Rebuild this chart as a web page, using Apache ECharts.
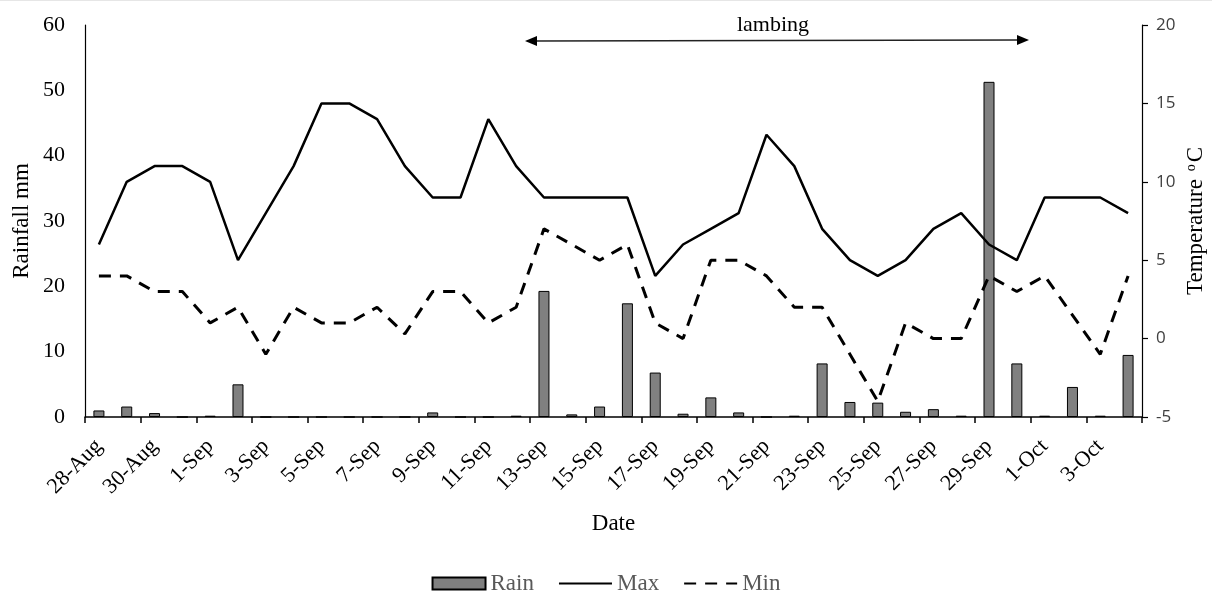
<!DOCTYPE html>
<html>
<head>
<meta charset="utf-8">
<script src="https://cdn.jsdelivr.net/npm/echarts@6/dist/echarts.min.js"></script>
<style>
html,body{margin:0;padding:0;background:#fff;}
#chart{width:1212px;height:594px;}
</style>
</head>
<body>
<div id="chart"></div>
<script>
const dates = ['28-Aug','29-Aug','30-Aug','31-Aug',
  '1-Sep','2-Sep','3-Sep','4-Sep','5-Sep','6-Sep','7-Sep','8-Sep','9-Sep','10-Sep',
  '11-Sep','12-Sep','13-Sep','14-Sep','15-Sep','16-Sep','17-Sep','18-Sep','19-Sep','20-Sep',
  '21-Sep','22-Sep','23-Sep','24-Sep','25-Sep','26-Sep','27-Sep','28-Sep','29-Sep','30-Sep',
  '1-Oct','2-Oct','3-Oct','4-Oct'];
const rain = [1.0,1.6,0.6,0,
  0.2,5.0,0,0,0,0,0,0,0.7,0,
  0,0.2,19.3,0.4,1.6,17.4,6.8,0.5,3.0,0.7,
  0,0.2,8.2,2.3,2.2,0.8,1.2,0.2,51.3,8.2,
  0.2,4.6,0.2,9.5];
const tMax = [6,10,11,11,
  10,5,8,11,15,15,14,11,9,9,
  14,11,9,9,9,9,4,6,7,8,
  13,11,7,5,4,5,7,8,6,5,
  9,9,9,8];
const tMin = [4,4,3,3,
  1,2,-1,2,1,1,2,0.3,3,3,
  1,2,7,6,5,6,1,0,5,5,
  4,2,2,-1,-4,1,0,0,4,3,
  4,1.5,-1,4];
const rainTicks = {min:0, max:60, interval:10};
const tempTicks = {min:-5, max:20, interval:5};

const SERIF = "'Liberation Serif','Times New Roman',serif";
const chart = echarts.init(document.getElementById('chart'), null, {renderer:'canvas'});
chart.setOption({
  animation:false,
  backgroundColor:'#fff',
  grid:{left:85, right:70, top:25, bottom:177, containLabel:false, outerBoundsMode:'none'},
  legend:{
    data:[{name:'Rain', icon:'rect'},
          {name:'Max', itemStyle:{opacity:0}},
          {name:'Min', itemStyle:{opacity:0}}],
    left:'center', top:567,
    itemWidth:53, itemHeight:12, itemGap:24,
    textStyle:{fontFamily:SERIF, fontSize:23, color:'#595959'}
  },
  xAxis:{
    type:'category', data:dates, boundaryGap:true,
    axisLine:{lineStyle:{color:'#000', width:1.5}},
    axisTick:{show:true, interval:1, length:6, lineStyle:{color:'#000', width:1.5}},
    axisLabel:{interval:1, rotate:45, margin:26, fontFamily:SERIF, fontSize:22, color:'#000'},
    name:'Date', nameLocation:'middle', nameGap:95, nameMoveOverlap:false,
    nameTextStyle:{fontFamily:SERIF, fontSize:23, color:'#000'},
    splitLine:{show:false}
  },
  yAxis:[{
    type:'value', position:'left', min:rainTicks.min, max:rainTicks.max, interval:rainTicks.interval,
    axisLine:{show:true, lineStyle:{color:'#000', width:1.2}},
    axisTick:{show:false},
    splitLine:{show:false},
    axisLabel:{fontFamily:SERIF, fontSize:22, color:'#000', margin:20},
    name:'Rainfall mm', nameLocation:'middle', nameGap:52, nameRotate:90, nameMoveOverlap:false,
    nameTextStyle:{fontFamily:SERIF, fontSize:23, color:'#000'}
  },{
    type:'value', position:'right', min:tempTicks.min, max:tempTicks.max, interval:tempTicks.interval,
    axisLine:{show:true, lineStyle:{color:'#000', width:1.2}},
    axisTick:{show:true, length:6, lineStyle:{color:'#000', width:1.2}},
    splitLine:{show:false},
    axisLabel:{fontFamily:"'Open Sans',sans-serif", fontSize:17, color:'#404040', margin:14},
    name:'Temperature {sup|o}C', nameLocation:'middle', nameGap:42, nameRotate:90, nameMoveOverlap:false,
    nameTextStyle:{fontFamily:SERIF, fontSize:23, color:'#000',
      rich:{sup:{fontFamily:SERIF, fontSize:14, color:'#000', verticalAlign:'top', padding:[0,2,10,2]}}}
  }],
  series:[{
    name:'Rain', type:'bar', yAxisIndex:0, data:rain, barWidth:11,
    itemStyle:{color:'#808080', borderColor:'#000', borderWidth:1}
  },{
    name:'Max', type:'line', yAxisIndex:1, data:tMax, symbol:'none',
    lineStyle:{color:'#000', width:2.5}, itemStyle:{color:'#000'}
  },{
    name:'Min', type:'line', yAxisIndex:1, data:tMin, symbol:'none',
    lineStyle:{color:'#000', width:3, type:[12,9]}, itemStyle:{color:'#000'}
  }],
  graphic:[
    {type:'line', shape:{x1:0, y1:0.5, x2:1212, y2:0.5}, style:{stroke:'#e6e6e6', lineWidth:1}},
    {type:'line', shape:{x1:535, y1:41, x2:1018, y2:40}, style:{stroke:'#222', lineWidth:1.3}},
    {type:'polygon', shape:{points:[[525,41],[537,36],[537,46]]}, style:{fill:'#000'}},
    {type:'polygon', shape:{points:[[1029,40],[1017,35],[1017,45]]}, style:{fill:'#000'}},
    {type:'text', x:773, y:25, style:{text:'lambing', font:"22px 'Liberation Serif'", fill:'#000', align:'center', verticalAlign:'middle'}}
  ]
});
</script>
</body>
</html>
